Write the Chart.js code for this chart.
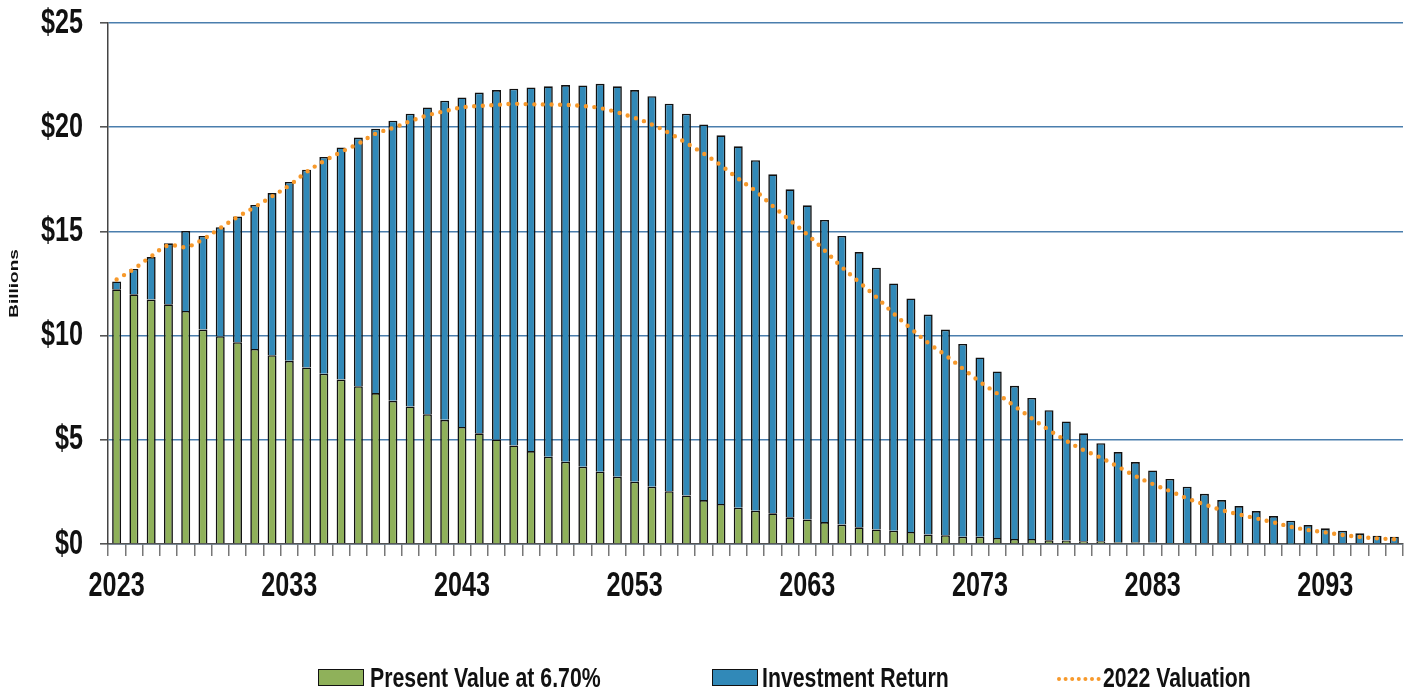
<!DOCTYPE html>
<html>
<head>
<meta charset="utf-8">
<script src="https://cdn.jsdelivr.net/npm/chart.js@4.4.1/dist/chart.umd.min.js"></script>
<style>
  html, body { margin: 0; padding: 0; background: #fff; }
  #wrap { position: relative; width: 1410px; height: 694px; overflow: hidden; }
  canvas { position: absolute; left: 0; top: 0; }
  .box { position: absolute; top: 669px; width: 44px; height: 15px; border: 1.5px solid #111; box-sizing: content-box; }
  .txt { position: absolute; top: 664px; height: 28px; line-height: 28px; font-family: 'Liberation Sans', Arial, sans-serif;
         font-weight: bold; font-size: 28px; color: #111; white-space: nowrap; transform: scaleX(0.76); transform-origin: 0 50%; }
  .dots { position: absolute; top: 673px; }
</style>
</head>
<body>
<div id="wrap">
  <canvas id="c" width="1410" height="694"></canvas>
  <div class="box" style="left:318px;background:#8FB15A"></div><span class="txt" style="left:370px">Present Value at 6.70%</span>
  <div class="box" style="left:712px;background:#3189B8"></div><span class="txt" style="left:762px">Investment Return</span>
  <svg class="dots" style="left:1055px" width="46" height="12"><line x1="4" y1="6" x2="44" y2="6" stroke="#F7992B" stroke-width="4" stroke-linecap="round" stroke-dasharray="0 6.6"/></svg><span class="txt" style="left:1103px">2022 Valuation</span>
</div>
<script>
const years = [];
for (let y = 2023; y <= 2097; y++) years.push(String(y));

const xTickLabels = ['2023','2033','2043','2053','2063','2073','2083','2093'];
const yTickValues = [0, 5, 10, 15, 20, 25];

const presentValue = [
  12.22, 11.98, 11.73, 11.50, 11.18, 10.29, 9.97, 9.68, 9.36, 9.06,
  8.79, 8.47, 8.17, 7.89, 7.57, 7.24, 6.87, 6.60, 6.23, 5.96,
  5.62, 5.31, 5.02, 4.73, 4.46, 4.19, 3.95, 3.71, 3.47, 3.23,
  2.99, 2.75, 2.53, 2.33, 2.11, 1.92, 1.74, 1.60, 1.47, 1.28,
  1.18, 1.05, 0.93, 0.80, 0.70, 0.64, 0.58, 0.45, 0.42, 0.35,
  0.35, 0.29, 0.24, 0.24, 0.18, 0.17, 0.13, 0.13, 0.08, 0.08,
  0.06, 0.05, 0.05, 0.03, 0.03, 0.02, 0.02, 0.01, 0.01, 0.01,
  0.01, 0, 0, 0, 0
];

const investmentReturn = [
  0.38, 1.22, 2.04, 2.93, 3.84, 4.49, 5.23, 6.04, 6.91, 7.78,
  8.58, 9.49, 10.40, 11.14, 11.93, 12.69, 13.44, 14.05, 14.72, 15.31,
  15.81, 16.35, 16.76, 17.12, 17.45, 17.77, 18.07, 18.29, 18.61, 18.73,
  18.79, 18.74, 18.60, 18.32, 18.02, 17.69, 17.34, 16.82, 16.27, 15.74,
  15.07, 14.50, 13.85, 13.21, 12.56, 11.86, 11.20, 10.56, 9.87, 9.25,
  8.60, 7.99, 7.35, 6.77, 6.24, 5.71, 5.18, 4.71, 4.33, 3.85,
  3.47, 3.07, 2.70, 2.38, 2.08, 1.80, 1.56, 1.33, 1.11, 0.90,
  0.74, 0.64, 0.51, 0.40, 0.35
];

const valuation2022 = [
  12.69, 13.20, 13.80, 14.33, 14.25, 14.62, 15.16, 15.69, 16.17, 16.68,
  17.21, 17.85, 18.37, 18.81, 19.21, 19.69, 19.96, 20.29, 20.57, 20.77,
  20.95, 21.02, 21.07, 21.12, 21.10, 21.09, 21.07, 21.02, 20.92, 20.71,
  20.45, 20.13, 19.72, 19.24, 18.73, 18.17, 17.53, 16.94, 16.22, 15.53,
  14.85, 14.09, 13.29, 12.57, 11.85, 11.06, 10.34, 9.65, 9.06, 8.42,
  7.78, 7.22, 6.62, 6.03, 5.47, 4.95, 4.51, 4.14, 3.71, 3.26,
  2.88, 2.54, 2.19, 1.90, 1.63, 1.42, 1.23, 1.04, 0.83, 0.67,
  0.56, 0.43, 0.34, 0.27, 0.23
];

const FONT = "'Liberation Sans', Arial, sans-serif";
const SQUASH = 0.72; // horizontally condensed lettering, as in the reference

const condensedText = {
  id: 'condensedText',
  beforeDraw(chart) {
    const ctx = chart.ctx;
    if (ctx.__condensed) return;
    const orig = ctx.fillText.bind(ctx);
    ctx.fillText = function(text, x, y, maxWidth) {
      const m = ctx.getTransform();
      const p = m.transformPoint(new DOMPoint(x, y));
      ctx.save();
      const S = new DOMMatrix().translate(p.x, p.y).scale(SQUASH, 1).translate(-p.x, -p.y);
      ctx.setTransform(S.multiply(m));
      if (maxWidth === undefined) orig(text, x, y); else orig(text, x, y, maxWidth);
      ctx.restore();
    };
    ctx.__condensed = true;
  }
};

new Chart(document.getElementById('c'), {
  data: {
    labels: years,
    datasets: [
      {
        type: 'line', label: '2022 Valuation', data: valuation2022, stack: 'val', order: 0,
        borderColor: '#F7992B', borderWidth: 4.4, borderDash: [0, 8.6], borderCapStyle: 'round',
        pointRadius: 0, tension: 0.4, fill: false
      },
      {
        type: 'bar', label: 'Present Value at 6.70%', data: presentValue, stack: 'bars', order: 1,
        backgroundColor: '#8FB15A', borderColor: '#111', borderWidth: 1.6,
        categoryPercentage: 1.0, barPercentage: 0.52
      },
      {
        type: 'bar', label: 'Investment Return', data: investmentReturn, stack: 'bars', order: 2,
        backgroundColor: '#3189B8', borderColor: '#111', borderWidth: 1.6,
        categoryPercentage: 1.0, barPercentage: 0.52
      }
    ]
  },
  plugins: [condensedText],
  options: {
    responsive: false,
    animation: false,
    devicePixelRatio: 1,
    layout: { padding: { left: 0, top: 23, right: 7, bottom: 0 } },
    plugins: { legend: { display: false }, tooltip: { enabled: false } },
    scales: {
      x: {
        stacked: true,
        offset: true,
        afterFit: (s) => { s.height = 150; s.paddingLeft = 0; s.paddingRight = 0; },
        grid: { display: true, drawOnChartArea: false, drawTicks: true, tickLength: 12, color: '#777', offset: true, lineWidth: 1.5 },
        border: { display: true, color: '#555', width: 1.5 },
        ticks: {
          autoSkip: false, maxRotation: 0, minRotation: 0, padding: 9, color: '#111',
          font: { family: FONT, size: 35, weight: 'bold' },
          callback: function(val, idx) { const l = years[idx]; return xTickLabels.includes(l) ? l : ''; }
        }
      },
      y: {
        stacked: true,
        min: 0, max: 25,
        afterFit: (s) => { s.width = 108; s.paddingTop = 0; s.paddingBottom = 0; },
        afterBuildTicks: (s) => { s.ticks = yTickValues.map(v => ({ value: v })); },
        grid: { color: '#4A7EAD', lineWidth: 1.6, tickColor: '#555', tickLength: 8, drawTicks: true },
        border: { display: true, color: '#444', width: 1.5 },
        ticks: {
          padding: 17, color: '#111',
          font: { family: FONT, size: 35, weight: 'bold' },
          callback: (v) => '$' + v
        },
        title: {
          display: true, text: 'Billions', color: '#111',
          font: { family: FONT, size: 19, weight: 'bold' },
          padding: { top: 3, bottom: 0 }
        }
      }
    }
  }
});
</script>
</body>
</html>
